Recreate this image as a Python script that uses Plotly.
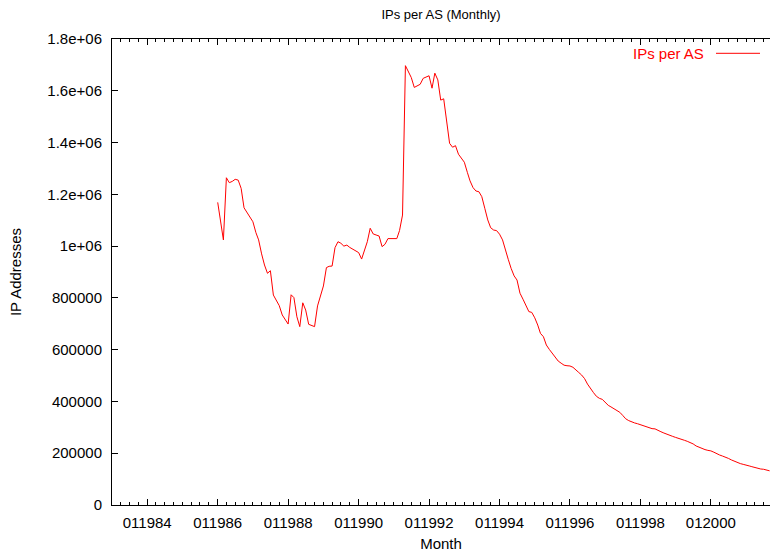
import plotly.graph_objects as go
import pandas as pd

# Monthly IPs per AS, starting Jan 1986
start_month = "1986-01-01"
ips_per_as = [
    1169000, 1094000, 1024000, 1264000, 1245000, 1250000, 1258000, 1255000, 1223000, 1148000, 1129000, 1114000,  # 1986
    1094000, 1052000, 1024000, 970000, 927000, 895000, 905000, 811000, 792000, 770000, 734000, 715000,  # 1987
    699000, 812000, 801000, 727000, 689000, 781000, 753000, 698000, 694000, 689000, 769000, 805000,  # 1988
    846000, 917000, 922000, 923000, 994000, 1017000, 1011000, 1000000, 1004000, 995000, 989000, 982000,  # 1989
    975000, 950000, 981000, 1017000, 1069000, 1047000, 1043000, 1039000, 998000, 1007000, 1029000, 1029000,  # 1990
    1027000, 1029000, 1060000, 1120000, 1697000, 1674000, 1651000, 1613000, 1618000, 1625000, 1648000, 1654000,  # 1991
    1658000, 1610000, 1668000, 1642000, 1564000, 1569000, 1481000, 1397000, 1382000, 1388000, 1355000, 1339000,  # 1992
    1324000, 1285000, 1252000, 1226000, 1213000, 1210000, 1191000, 1146000, 1101000, 1071000, 1062000, 1060000,  # 1993
    1046000, 1024000, 985000, 949000, 914000, 885000, 869000, 818000, 795000, 769000, 747000, 744000,  # 1994
    723000, 695000, 663000, 650000, 618000, 601000, 586000, 569000, 556000, 548000, 540000, 538000,  # 1995
    537000, 532000, 524000, 512000, 502000, 488000, 467000, 448000, 434000, 420000, 412000, 408000,  # 1996
    395000, 385000, 379000, 372000, 366000, 358000, 346000, 333000, 326000, 321000, 317000, 314000,  # 1997
    310000, 308000, 305000, 300000, 295000, 294000, 290000, 283000, 278000, 273000, 268000, 265000,  # 1998
    261000, 258000, 254000, 250000, 246000, 242000, 236000, 228000, 223000, 217000, 214000, 211000,  # 1999
    209000, 204000, 198000, 193000, 189000, 185000, 180000, 174000, 169000, 163000, 160000, 157000,  # 2000
    155000, 151000, 148000, 144000, 142000, 139000, 138000, 135000, 132000,  # 2001
]
months = pd.date_range(start_month, periods=len(ips_per_as), freq="MS")

y_tick_vals = [0, 200000, 400000, 600000, 800000, 1000000, 1200000, 1400000, 1600000, 1800000]
y_tick_text = ["0", "200000", "400000", "600000", "800000", "1e+06", "1.2e+06", "1.4e+06", "1.6e+06", "1.8e+06"]

series_name = "IPs per AS"
FONT = "Liberation Sans, Arial, sans-serif"

fig = go.Figure()
fig.add_trace(go.Scatter(x=months, y=ips_per_as, mode="lines", name=series_name,
                         line=dict(color="#ff0000", width=1), showlegend=False))

fig.update_layout(
    width=770, height=552,
    margin=dict(l=112, r=0, t=39, b=47),
    paper_bgcolor="white", plot_bgcolor="white",
    font=dict(family=FONT, size=15, color="black"),
    title=dict(text="IPs per AS (Monthly)", x=(112 + 770) / 2 / 770, xanchor="center",
               xref="container", yref="container", y=1 - 14 / 552, yanchor="middle",
               font=dict(family=FONT, size=13, color="black")),
)

fig.update_xaxes(
    type="date", range=["1983-01-01", "2001-09-05"],
    tick0="1984-01-01", dtick="M24", tickformat="%m%Y",
    ticks="inside", ticklen=6, tickwidth=1, tickcolor="black",
    showline=True, linecolor="black", linewidth=1, mirror="ticks",
    showgrid=False, zeroline=False,
    minor=dict(ticks="inside", dtick="M3", tick0="1984-01-01", ticklen=3, tickcolor="black", showgrid=False),
    tickfont=dict(family=FONT, size=15),
    ticklabelstandoff=4,
    title=dict(text="Month", font=dict(family=FONT, size=15), standoff=9),
)
fig.update_yaxes(
    range=[0, 1800000], tickvals=y_tick_vals, ticktext=y_tick_text,
    ticks="inside", ticklen=6, tickwidth=1, tickcolor="black",
    showline=True, linecolor="black", linewidth=1, mirror=False,
    showgrid=False, zeroline=False,
    tickfont=dict(family=FONT, size=15),
    ticklabelstandoff=6,
    title=dict(text="IP Addresses", font=dict(family=FONT, size=15), standoff=22),
)

# gnuplot-style key: red text followed by line sample
key_y = (505 - 53.3) / 466
fig.add_annotation(x=(706 - 112) / 658, y=key_y, xref="paper", yref="paper",
                   text=series_name, showarrow=False, xanchor="right", yanchor="middle",
                   font=dict(family=FONT, size=15, color="#ff0000"))
fig.add_shape(type="line", xref="paper", yref="paper",
              x0=(716 - 112) / 658, x1=(760 - 112) / 658, y0=key_y, y1=key_y,
              line=dict(color="#ff0000", width=1))

fig.write_html("out.html")
